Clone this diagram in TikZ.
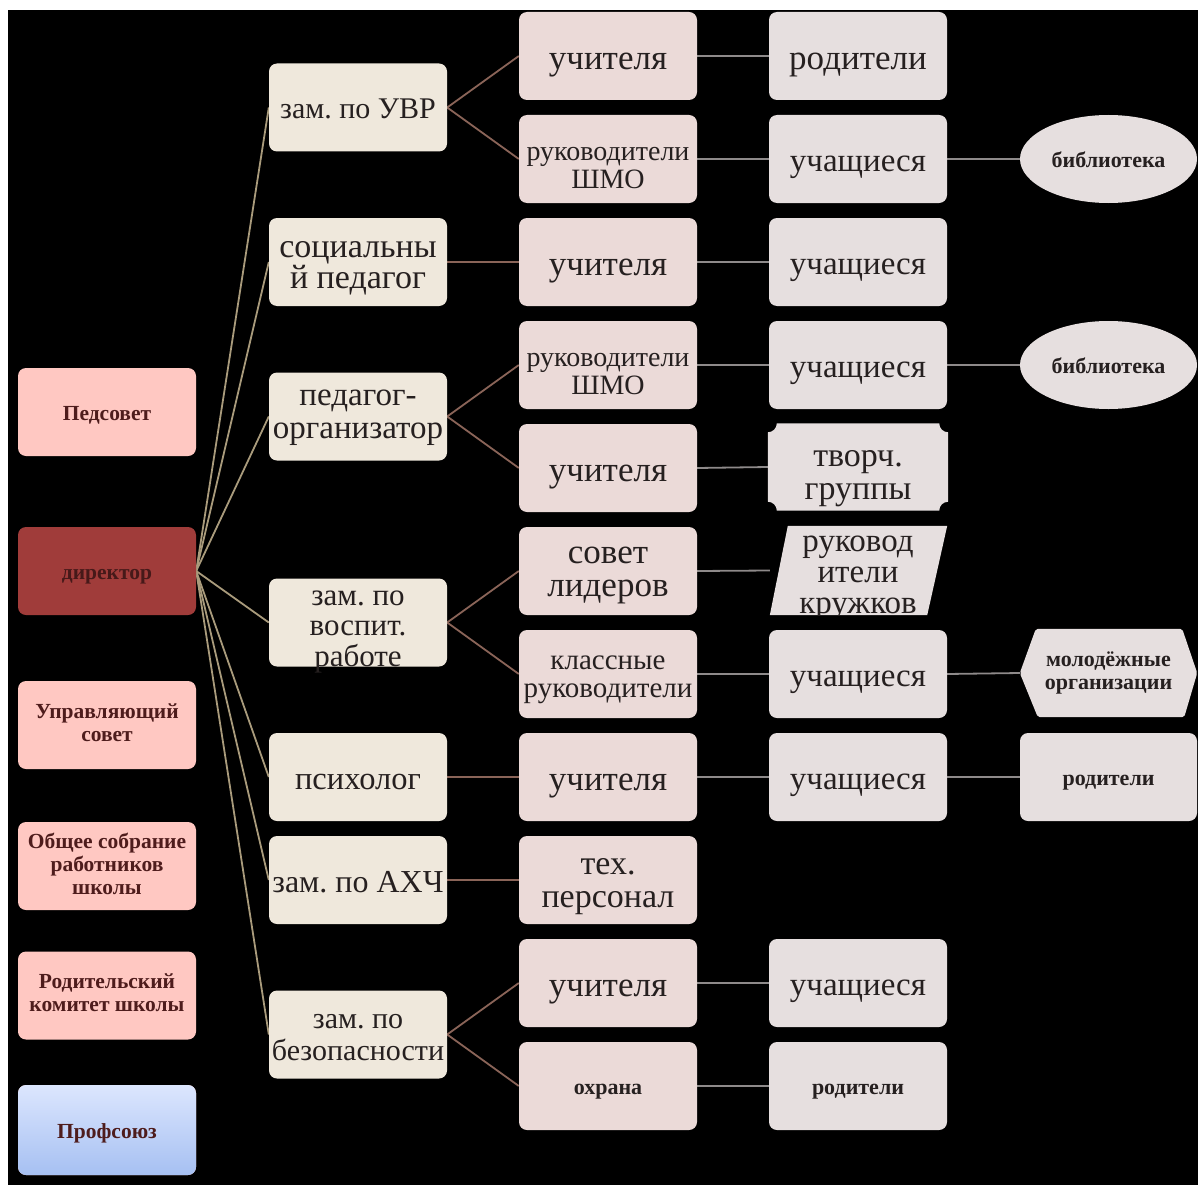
\documentclass[tikz,border=0pt]{standalone}
\usepackage{fontspec}
\setmainfont{Liberation Serif}
\usetikzlibrary{backgrounds,calc,shapes.geometric}

\definecolor{creamfill}{HTML}{EFE8DC}
\definecolor{pinkfill}{HTML}{EBDAD8}
\definecolor{grayfill}{HTML}{E6DFDF}
\definecolor{salmon}{HTML}{FFC8C2}
\definecolor{dirred}{HTML}{A03C3A}
\definecolor{blueTop}{HTML}{DCE6FE}
\definecolor{blueBot}{HTML}{A6C0F2}
\definecolor{tanline}{HTML}{A99B7C}
\definecolor{brownline}{HTML}{8A6458}
\definecolor{grayline}{HTML}{8E8A8A}
\definecolor{darktext}{HTML}{262020}
\definecolor{maroontext}{HTML}{4E1C1C}

\newcommand{\bxstrut}{\vrule width 0pt height 1em depth 0.25em\relax}
\newcommand{\tl}[1]{\vrule width 0pt height #1pt depth 0pt\relax}

\tikzset{
  box/.style={rounded corners=8pt, minimum width=178pt, minimum height=88pt,
    align=center, inner sep=2pt, text=darktext,
    execute at begin node=\bxstrut, execute at end node=\bxstrut},
  ctwo/.style={box, fill=creamfill},
  cthree/.style={box, fill=pinkfill},
  cfour/.style={box, fill=grayfill},
  fs/.style 2 args={font=\fontsize{#1}{#2}\selectfont},
  lbox/.style={box, fill=salmon, text=maroontext, font=\bfseries\fontsize{21.5}{23}\selectfont},
  small/.style={font=\bfseries\fontsize{22}{23}\selectfont},
  freetext/.style={align=center, text=darktext, inner sep=0pt,
    execute at begin node=\bxstrut, execute at end node=\bxstrut},
  tanl/.style={draw=tanline, line width=1.8pt},
  brownl/.style={draw=brownline, line width=1.8pt},
  grayl/.style={draw=grayline, line width=1.8pt},
}

\begin{document}
\frenchspacing
\begin{tikzpicture}[x=1pt, y=-1pt]
\useasboundingbox (0,0) rectangle (1198,1185);

% left column
\node[lbox] (ped) at (107,412) {Педсовет};
\node[lbox, fill=dirred, text=maroontext!90!black] (dir) at (107,571) {директор};
\node[lbox] (upr) at (107,725) {Управляющий\\совет};
\node[lbox] (obsh) at (107,866) {Общее собрание\\работников\\школы};
\node[lbox] (rod) at (107,995.5) {Родительский\\комитет школы};
\node[lbox, top color=blueTop, bottom color=blueBot, minimum height=90pt] (prof) at (107,1130) {Профсоюз};

% column 2
\node[ctwo, fs={30}{32}] (uvr) at (358,107.5) {зам. по УВР};
\node[ctwo, fs={34}{31}] (soc) at (358,262) {\tl{29.5}социальны\\й педагог};
\node[ctwo, fs={33}{33}] (porg) at (358,416.5) {\tl{18.25}педагог-\\организатор};
\node[ctwo] (vosp) at (358,622.5) {};
\node[freetext, fs={31}{30.5}] (vospt) at (358,622.5) {\tl{33.75}зам. по\\воспит.\\работе};
\node[ctwo, fs={32.5}{34}] (psy) at (358,777) {психолог};
\node[ctwo, fs={32}{34}] (ahch) at (358,880) {зам. по АХЧ};
\node[ctwo, fs={30}{32}] (bez) at (358,1034.5) {\tl{26.5}зам. по\\безопасности};

% column 3
\node[cthree, fs={35}{36}] (a1) at (608,56) {учителя};
\node[cthree, fs={28}{28}] (a2) at (608,159) {\tl{37}руководители\\ШМО};
\node[cthree, fs={35}{36}] (a3) at (608,262) {учителя};
\node[cthree, fs={28}{28}] (a4) at (608,365) {\tl{37}руководители\\ШМО};
\node[cthree, fs={35}{36}] (a5) at (608,468) {учителя};
\node[cthree, fs={35}{33}] (a6) at (608,571) {\tl{25.75}совет\\лидеров};
\node[cthree, fs={29}{28}] (a7) at (608,674) {\tl{25.25}классные\\руководители};
\node[cthree, fs={35}{36}] (a8) at (608,777) {учителя};
\node[cthree, fs={34}{33}] (a9) at (608,880) {\tl{29.5}тех.\\персонал};
\node[cthree, fs={35}{36}] (a10) at (608,983) {учителя};
\node[cthree, small] (a11) at (608,1086) {охрана};

% column 4
\node[cfour, fs={35}{36}] (b1) at (858,56) {родители};
\node[cfour, fs={33}{34}] (b2) at (858,159) {учащиеся};
\node[cfour, fs={33}{34}] (b3) at (858,262) {учащиеся};
\node[cfour, fs={33}{34}] (b4) at (858,365) {учащиеся};
\node[box, fs={34}{33}, minimum width=180pt, minimum height=87pt] (b5) at (858,467) {\tl{39.5}творч.\\группы};
\node[minimum width=177pt, minimum height=89pt, inner sep=0pt] (b6) at (858.5,570.5) {};
\node[cfour, fs={33}{34}] (b7) at (858,674) {учащиеся};
\node[cfour, fs={33}{34}] (b8) at (858,777) {учащиеся};
\node[cfour, fs={33}{34}] (b10) at (858,983) {учащиеся};
\node[cfour, small] (b11) at (858,1086) {родители};

% column 5
\node[ellipse, fill=grayfill, minimum width=177pt, minimum height=88pt, small, text=darktext,
  execute at begin node=\bxstrut] (c2) at (1108.5,159) {библиотека};
\node[ellipse, fill=grayfill, minimum width=177pt, minimum height=88pt, small, text=darktext,
  execute at begin node=\bxstrut] (c4) at (1108.5,365) {библиотека};
\node[box, small, minimum width=177pt] (c7) at (1108.5,673) {молодёжные\\организации};
\node[cfour, small, minimum width=177pt] (c8) at (1108.5,777) {родители};

% clipped text of the parallelogram
\begin{scope}
  \clip (b6.south west) -- ($(b6.north west)+(18pt,0pt)$) -- (b6.north east) -- ($(b6.south east)+(-20pt,0pt)$) -- cycle;
  \node[freetext, fs={33}{31}] (b6t) at (858,573) {\tl{26.25}руковод\\ители\\кружков};
\end{scope}

\begin{pgfonlayer}{background}
  \fill[white] (0,0) rectangle (1198,1185);
  \fill[black] (8,10) rectangle (1198,1185);
  % director connectors
  \foreach \n in {uvr,soc,porg,vosp,psy,ahch,bez} \draw[tanl] (dir.east) -- (\n.west);
  % column 2 to 3
  \draw[brownl] (uvr.east) -- (a1.west);
  \draw[brownl] (uvr.east) -- (a2.west);
  \draw[brownl] (soc.east) -- (a3.west);
  \draw[brownl] (porg.east) -- (a4.west);
  \draw[brownl] (porg.east) -- (a5.west);
  \draw[brownl] (vosp.east) -- (a6.west);
  \draw[brownl] (vosp.east) -- (a7.west);
  \draw[brownl] (psy.east) -- (a8.west);
  \draw[brownl] (ahch.east) -- (a9.west);
  \draw[brownl] (bez.east) -- (a10.west);
  \draw[brownl] (bez.east) -- (a11.west);
  % column 3 to 4
  \foreach \i in {1,2,3,4,5,7,8,10,11} \draw[grayl] (a\i.east) -- (b\i.west);
  \draw[grayl] (a6.east) -- (b6.west);
  % column 4 to 5
  \foreach \i in {2,4,7,8} \draw[grayl] (b\i.east) -- (c\i.west);
  % parallelogram
  \fill[grayfill] (b6.south west) -- ($(b6.north west)+(18pt,0pt)$) -- (b6.north east) -- ($(b6.south east)+(-20pt,0pt)$) -- cycle;
  % hexagon
  \fill[grayfill, rounded corners=2pt] (c7.west) -- ($(c7.north west)+(16pt,0pt)$) -- ($(c7.north east)+(-15pt,0pt)$) -- (c7.east) -- ($(c7.south east)+(-13pt,0pt)$) -- ($(c7.south west)+(18pt,0pt)$) -- cycle;
  % concave-corner plaque
  \fill[grayfill] ($(b5.north west)+(9pt,0pt)$) -- ($(b5.north east)+(-9pt,0pt)$)
    arc[start angle=180, end angle=270, radius=9pt]
    -- ($(b5.south east)+(0pt,9pt)$)
    arc[start angle=90, end angle=180, radius=9pt]
    -- ($(b5.south west)+(9pt,0pt)$)
    arc[start angle=0, end angle=90, radius=9pt]
    -- ($(b5.north west)+(0pt,-9pt)$)
    arc[start angle=270, end angle=360, radius=9pt] -- cycle;
\end{pgfonlayer}
\end{tikzpicture}
\end{document}
